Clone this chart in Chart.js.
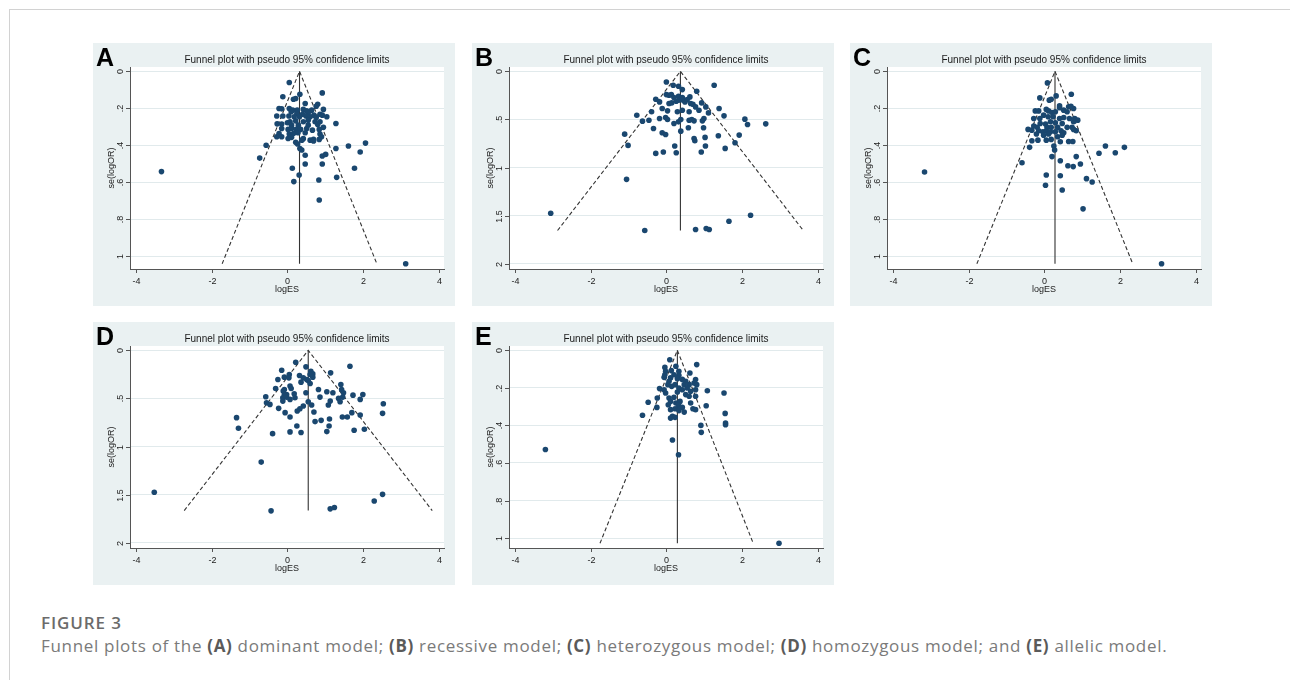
<!DOCTYPE html>
<html><head><meta charset="utf-8">
<script src="https://cdn.jsdelivr.net/npm/chart.js@4.4.0/dist/chart.umd.min.js"></script>
<style>
html,body{margin:0;padding:0;background:#fff;width:1290px;height:680px;overflow:hidden;position:relative;}
#frame{position:absolute;left:9px;top:9px;width:1290px;height:680px;border-top:1px solid #d2d2d2;border-left:1px solid #d2d2d2;}
.panel{position:absolute;width:362px;height:263px;}
canvas{display:block}
#cap1{position:absolute;left:41px;top:613px;font:600 17px 'Open Sans',sans-serif;line-height:20px;color:#6b6b6b;white-space:nowrap;letter-spacing:0.9px}
#cap2{position:absolute;left:41px;top:636px;font:400 17px 'Open Sans',sans-serif;line-height:20px;color:#7a7a7a;white-space:nowrap;letter-spacing:0.68px}
#cap2 b{font-weight:700;color:#5a5a5a}
</style></head>
<body>
<div id="frame"></div>
<div class="panel" style="left:93px;top:43px"><canvas id="cA" width="362" height="263"></canvas></div>
<div class="panel" style="left:472px;top:43px"><canvas id="cB" width="362" height="263"></canvas></div>
<div class="panel" style="left:850px;top:43px"><canvas id="cC" width="362" height="263"></canvas></div>
<div class="panel" style="left:93px;top:322px"><canvas id="cD" width="362" height="263"></canvas></div>
<div class="panel" style="left:472px;top:322px"><canvas id="cE" width="362" height="263"></canvas></div>
<div id="cap1">FIGURE 3</div>
<div id="cap2">Funnel plots of the <b>(A)</b> dominant model; <b>(B)</b> recessive model; <b>(C)</b> heterozygous model; <b>(D)</b> homozygous model; and <b>(E)</b> allelic model.</div>
<script>
// ---- data (logES, se(logOR)) ----
const panelLetters = ['A','B','C','D','E'];
const chartTitle = 'Funnel plot with pseudo 95% confidence limits';
const xTitle = 'logES';
const yTitle = 'se(logOR)';
const xTicks = [-4,-2,0,2,4];
const xTickLabels = ['-4','-2','0','2','4'];
const yTicksSmall = [0,0.2,0.4,0.6,0.8,1];
const yTickLabelsSmall = ['0','.2','.4','.6','.8','1'];
const yTicksLarge = [0,0.5,1,1.5,2];
const yTickLabelsLarge = ['0','.5','1','1.5','2'];

// pooled estimate, max se, and lower/upper pseudo-95% limits at max se
const pooledEst = [0.32, 0.37, 0.28, 0.55, 0.29];
const seMax = [1.04, 1.655, 1.04, 1.666, 1.028];
const limitLow = [-1.72, -2.87, -1.78, -2.72, -1.75];
const limitHigh = [2.36, 3.61, 2.33, 3.82, 2.29];
const yAxisMax = [1.068, 2.055, 1.068, 2.055, 1.053];
const yAxisMin = [-0.023, -0.045, -0.023, -0.045, -0.023];

const pointsA = [[0.05,0.061],[0.33,0.124],[0.92,0.117],[-0.12,0.138],[0.16,0.151],[0.22,0.147],[0.47,0.174],[0.80,0.178],[0.76,0.189],
[-0.22,0.201],[-0.15,0.203],[0.05,0.201],[0.14,0.21],[0.26,0.21],[0.42,0.206],[0.51,0.214],[0.64,0.21],[0.95,0.206],
[0.10,0.219],[0.25,0.228],[0.40,0.232],[0.55,0.224],[0.70,0.237],[0.86,0.232],
[-0.28,0.242],[-0.12,0.242],[0.04,0.242],[0.18,0.246],[0.32,0.246],[0.49,0.242],[0.60,0.246],[0.76,0.25],[0.92,0.237],[1.04,0.246],
[0.07,0.273],[0.22,0.268],[0.42,0.273],[0.55,0.264],[0.73,0.273],[0.80,0.287],[0.86,0.273],
[-0.27,0.284],[-0.15,0.285],[0.00,0.278],[0.11,0.291],[0.29,0.291],[0.55,0.291],[0.95,0.303],[1.28,0.282],
[-0.15,0.309],[0.02,0.314],[0.11,0.309],[0.23,0.314],[0.35,0.314],[0.51,0.309],[0.66,0.318],[0.84,0.314],
[-0.22,0.336],[0.05,0.339],[0.16,0.336],[0.28,0.332],[0.47,0.332],[0.86,0.339],
[-0.28,0.354],[-0.15,0.354],[0.02,0.363],[0.42,0.364],[0.69,0.368],[0.90,0.354],
[0.11,0.357],[0.38,0.372],[0.84,0.368],[0.22,0.384],[0.27,0.393],[0.60,0.372],[0.69,0.377],
[-0.56,0.40],[0.33,0.417],[0.38,0.425],[1.28,0.417],[1.61,0.404],[2.06,0.388],[1.92,0.436],
[0.47,0.454],[0.92,0.458],[1.01,0.449],[-0.73,0.469],[0.47,0.501],[0.92,0.501],[0.13,0.524],[1.77,0.524],
[-3.32,0.542],[0.31,0.56],[1.30,0.573],[0.83,0.587],[0.17,0.596],[0.84,0.695],[3.12,1.04]];

const pointsB = [[0.00,0.111],[0.18,0.145],[0.32,0.155],[0.42,0.190],[1.26,0.145],[0.80,0.207],[0.00,0.242],[0.07,0.249],[0.13,0.242],
[0.32,0.259],[0.62,0.266],[-0.28,0.290],[-0.18,0.318],[0.07,0.335],[0.14,0.328],[0.33,0.301],[0.44,0.301],[0.49,0.318],[0.55,0.294],
[0.64,0.335],[0.70,0.342],[0.77,0.370],[0.86,0.404],[0.93,0.328],[1.04,0.370],[1.39,0.387],[-0.39,0.421],[-0.11,0.387],[0.03,0.411],
[0.29,0.421],[0.42,0.404],[0.60,0.421],[1.11,0.432],[-0.78,0.456],[-0.63,0.518],[-0.46,0.508],[-0.18,0.490],[-0.02,0.480],[0.03,0.501],
[0.20,0.542],[0.32,0.525],[0.38,0.501],[0.60,0.508],[0.67,0.501],[0.73,0.515],[0.99,0.490],[0.95,0.515],[1.52,0.463],[2.07,0.497],
[2.62,0.546],[2.14,0.553],[-0.34,0.594],[-0.11,0.639],[-0.02,0.656],[0.38,0.622],[0.58,0.587],[0.98,0.587],[1.92,0.663],[1.37,0.670],
[1.02,0.687],[-1.10,0.653],[0.73,0.698],[0.75,0.722],[-1.01,0.770],[0.22,0.777],[1.03,0.777],[1.55,0.801],[1.81,0.743],[-0.28,0.853],
[-0.08,0.839],[0.26,0.846],[0.92,0.839],[-1.05,1.123],[-3.05,1.475],[2.22,1.496],[1.65,1.558],[-0.57,1.655],[0.77,1.644],[1.05,1.634],
[1.13,1.644],[0.20,0.273],[0.42,0.273],[0.26,0.311]];

const pointsC = [[0.08,0.063],[0.71,0.124],[0.31,0.133],[-0.12,0.144],[0.13,0.156],[0.18,0.151],[0.40,0.187],[0.40,0.197],[0.64,0.192],
[0.77,0.201],[0.70,0.189],[-0.24,0.214],[-0.15,0.214],[0.05,0.206],[0.11,0.214],[0.20,0.223],[0.29,0.219],[0.51,0.21],[0.60,0.219],
[-0.02,0.237],[0.10,0.246],[0.23,0.246],[-0.28,0.255],[-0.12,0.255],[0.40,0.255],[0.51,0.25],[0.66,0.255],[0.80,0.255],[0.88,0.264],
[0.77,0.273],[0.16,0.273],[0.29,0.278],[0.47,0.282],[-0.11,0.282],[0.03,0.285],[-0.28,0.296],[-0.19,0.303],[0.07,0.303],[0.18,0.303],
[0.35,0.303],[0.60,0.303],[0.73,0.303],[0.84,0.321],[-0.43,0.314],[-0.33,0.318],[-0.15,0.321],[-0.04,0.327],[0.05,0.321],[0.16,0.327],
[0.29,0.327],[0.44,0.321],[0.51,0.332],[0.77,0.314],[-0.21,0.339],[-0.02,0.345],[0.11,0.339],[0.35,0.354],[0.47,0.345],
[-0.33,0.375],[-0.17,0.372],[0.05,0.372],[0.18,0.368],[0.42,0.381],[0.64,0.379],[0.75,0.379],[-0.39,0.411],[0.25,0.404],[0.27,0.425],
[0.20,0.461],[0.42,0.483],[0.84,0.461],[1.61,0.404],[2.11,0.411],[1.44,0.443],[1.87,0.440],[-0.59,0.494],[0.62,0.51],[0.76,0.515],
[0.95,0.501],[-3.16,0.544],[0.05,0.560],[0.42,0.564],[1.11,0.580],[1.26,0.598],[0.03,0.616],[0.47,0.641],[1.02,0.743],[3.09,1.040]];

const pointsD = [[0.22,0.124],[0.49,0.172],[1.65,0.166],[-0.15,0.207],[0.62,0.217],[0.67,0.245],[0.60,0.252],[1.14,0.234],[0.05,0.252],
[-0.08,0.279],[0.04,0.286],[0.32,0.262],[-0.25,0.303],[0.42,0.286],[0.51,0.303],[0.55,0.314],[0.67,0.279],[0.36,0.331],[0.60,0.345],
[-0.31,0.397],[-0.08,0.407],[0.07,0.372],[0.10,0.397],[1.41,0.355],[1.43,0.407],[-0.11,0.424],[-0.02,0.459],[-0.08,0.459],[0.18,0.452],
[0.49,0.441],[0.82,0.407],[1.04,0.431],[1.20,0.441],[1.48,0.441],[1.46,0.486],[1.73,0.466],[1.99,0.459],[1.92,0.510],[-0.57,0.483],
[-0.12,0.493],[-0.02,0.486],[0.20,0.493],[0.07,0.510],[0.86,0.486],[1.35,0.50],[1.39,0.534],[-0.12,0.528],[-0.55,0.545],[-0.46,0.562],
[0.55,0.534],[0.64,0.569],[1.13,0.528],[1.08,0.569],[2.53,0.555],[-0.23,0.603],[0.42,0.579],[0.33,0.607],[0.26,0.631],[-0.06,0.648],
[0.70,0.641],[1.70,0.648],[2.51,0.655],[-1.34,0.70],[0.07,0.693],[1.45,0.693],[1.58,0.693],[1.92,0.672],[1.11,0.714],[0.89,0.728],
[0.73,0.741],[-1.29,0.81],[0.25,0.786],[1.10,0.786],[1.76,0.831],[2.03,0.821],[0.07,0.848],[0.36,0.855],[1.04,0.845],[-0.39,0.866],
[-0.69,1.162],[-3.51,1.476],[2.51,1.497],[2.29,1.566],[-0.43,1.669],[1.13,1.648],[1.24,1.634]];

const pointsE = [[0.09,0.050],[0.80,0.076],[0.25,0.085],[-0.04,0.091],[-0.02,0.112],[-0.04,0.130],[-0.06,0.144],[0.13,0.108],[0.20,0.130],
[0.11,0.147],[0.07,0.165],[0.33,0.112],[0.33,0.133],[0.29,0.151],[0.42,0.155],[0.62,0.121],[0.77,0.156],[0.73,0.174],[0.80,0.183],
[0.51,0.165],[0.60,0.183],[0.47,0.183],[0.55,0.201],[0.04,0.183],[0.14,0.192],[0.23,0.183],[-0.18,0.204],[-0.06,0.210],[-0.02,0.227],
[0.33,0.201],[0.42,0.210],[0.29,0.222],[0.64,0.218],[0.51,0.236],[0.60,0.245],[0.77,0.210],[0.77,0.245],[1.08,0.215],[1.52,0.227],
[0.07,0.254],[0.11,0.272],[0.05,0.290],[0.20,0.250],[0.25,0.281],[-0.24,0.254],[0.36,0.272],[0.32,0.293],[0.42,0.304],[0.64,0.281],
[0.70,0.311],[0.77,0.316],[-0.48,0.277],[1.05,0.295],[-0.25,0.304],[0.11,0.316],[0.23,0.311],[0.33,0.321],[0.47,0.329],[0.16,0.352],
[0.23,0.357],[-0.63,0.346],[0.11,0.361],[1.55,0.336],[0.91,0.400],[0.92,0.437],[1.56,0.387],[1.56,0.396],[0.16,0.478],[0.32,0.556],
[-3.19,0.528],[2.97,1.028]];

const allPoints = [pointsA, pointsB, pointsC, pointsD, pointsE];
const canvasIds = ['cA','cB','cC','cD','cE'];

const FONT = "'Liberation Sans', Arial, Helvetica, sans-serif";

const funnelDecor = {
  id: 'funnelDecor',
  beforeDraw(chart) {
    const {ctx, chartArea: a, width, height} = chart;
    ctx.save();
    ctx.fillStyle = '#eaf1f2';
    ctx.fillRect(0, 0, width, height);
    ctx.fillStyle = '#ffffff';
    ctx.fillRect(a.left, a.top, a.right - a.left, a.bottom - a.top);
    ctx.restore();
  },
  afterDraw(chart, args, opts) {
    const {ctx, chartArea: a} = chart;
    const xs = chart.scales.x, ys = chart.scales.y;
    const cx = (a.left + a.right) / 2;
    ctx.save();
    ctx.strokeStyle = '#555';
    ctx.lineWidth = 1;
    // x tick marks + labels
    ctx.fillStyle = '#222';
    ctx.font = '9px ' + FONT;
    ctx.textAlign = 'center';
    ctx.textBaseline = 'alphabetic';
    xTicks.forEach((v, i) => {
      const px = Math.round(xs.getPixelForValue(v)) + 0.5;
      ctx.beginPath(); ctx.moveTo(px, a.bottom); ctx.lineTo(px, a.bottom + 4); ctx.stroke();
      ctx.fillText(xTickLabels[i], px, a.bottom + 14.5);
    });
    // y tick marks + rotated labels
    opts.yTicks.forEach((v, i) => {
      const py = Math.round(ys.getPixelForValue(v)) + 0.5;
      ctx.beginPath(); ctx.moveTo(a.left - 4, py); ctx.lineTo(a.left, py); ctx.stroke();
      ctx.save();
      ctx.translate(a.left - 7.5, py);
      ctx.rotate(-Math.PI / 2);
      ctx.fillText(opts.yLabels[i], 0, 0);
      ctx.restore();
    });
    // axis titles
    ctx.fillText(xTitle, cx, a.bottom + 22.5);
    ctx.save();
    ctx.translate(a.left - 16, (a.top + a.bottom) / 2);
    ctx.rotate(-Math.PI / 2);
    ctx.fillText(yTitle, 0, 0);
    ctx.restore();
    // main title
    ctx.fillStyle = '#1a1a1a';
    ctx.font = '10px ' + FONT;
    ctx.fillText(chartTitle, cx, a.top - 3.7);
    // panel letter
    ctx.fillStyle = '#000';
    ctx.font = 'bold 25px ' + FONT;
    ctx.textAlign = 'left';
    ctx.fillText(opts.letter, 3, a.top - 1);
    ctx.restore();
  }
};

function makeChart(k) {
  const big = (k === 1 || k === 3);
  const yT = big ? yTicksLarge : yTicksSmall;
  const yL = big ? yTickLabelsLarge : yTickLabelsSmall;
  const pts = allPoints[k];
  new Chart(document.getElementById(canvasIds[k]), {
    type: 'scatter',
    data: {
      datasets: [
        { data: pts.map(p => ({x: p[0], y: p[1]})), pointRadius: 2.8, pointHoverRadius: 2.8,
          backgroundColor: '#1a476f', borderColor: '#1a476f', borderWidth: 0, order: 0 },
        { data: [{x: pooledEst[k], y: 0}, {x: pooledEst[k], y: seMax[k]}], showLine: true,
          borderColor: '#333', borderWidth: 1.1, pointRadius: 0, order: 1 },
        { data: [{x: limitLow[k], y: seMax[k]}, {x: pooledEst[k], y: 0}, {x: limitHigh[k], y: seMax[k]}], showLine: true,
          borderColor: '#333', borderWidth: 1.1, borderDash: [4, 2.5], pointRadius: 0, order: 1 }
      ]
    },
    options: {
      responsive: false, animation: false, events: [],
      devicePixelRatio: 1,
      layout: { padding: { top: 24, right: 11, left: 0, bottom: 0 } },
      plugins: { legend: { display: false }, tooltip: { enabled: false }, title: { display: false },
        funnelDecor: { letter: panelLetters[k], yTicks: yT, yLabels: yL } },
      scales: {
        x: { type: 'linear', min: -4.15, max: 4.13,
          afterBuildTicks: s => { s.ticks = xTicks.map(v => ({value: v})); },
          afterFit: s => { s.height = 37; },
          ticks: { display: false },
          grid: { display: false, drawTicks: false },
          border: { display: true, color: '#555', width: 1 } },
        y: { type: 'linear', reverse: true, min: yAxisMin[k], max: yAxisMax[k],
          afterBuildTicks: s => { s.ticks = yT.map(v => ({value: v})); },
          afterFit: s => { s.width = 37; },
          ticks: { display: false },
          grid: { display: true, color: '#e1eaec', lineWidth: 1, drawTicks: false },
          border: { display: true, color: '#555', width: 1 } }
      }
    },
    plugins: [funnelDecor]
  });
}
for (let k = 0; k < 5; k++) makeChart(k);
</script>
</body></html>
